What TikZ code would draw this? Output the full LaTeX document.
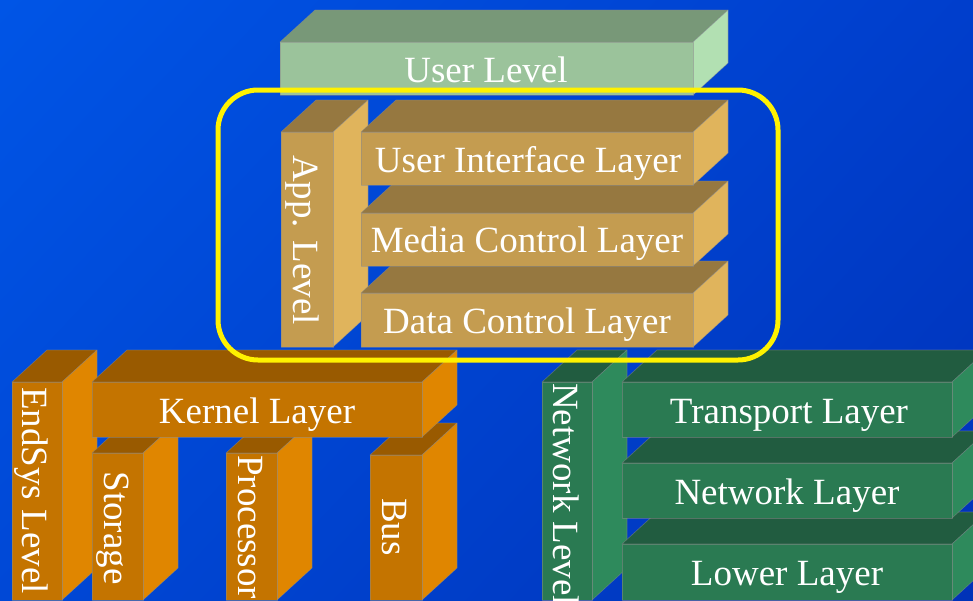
\documentclass[tikz,border=0pt]{standalone}
\usepackage{fontspec}
\setmainfont{Liberation Serif}
\usetikzlibrary{shadings}

% face colours of the four block families
\definecolor{userfront}{HTML}{9BC39B}
\definecolor{usertop}{HTML}{789878}
\definecolor{userside}{HTML}{B2E0B2}
\definecolor{appfront}{HTML}{C49C50}
\definecolor{apptop}{HTML}{967840}
\definecolor{appside}{HTML}{E0B45C}
\definecolor{sysfront}{HTML}{C47400}
\definecolor{systop}{HTML}{995A00}
\definecolor{sysside}{HTML}{E08600}
\definecolor{netfront}{HTML}{2A7A52}
\definecolor{nettop}{HTML}{215C40}
\definecolor{netside}{HTML}{2E8A5C}
\definecolor{bgUL}{HTML}{0055E6}
\definecolor{bgUR}{HTML}{003ECC}
\definecolor{bgLL}{HTML}{0048D6}
\definecolor{bgLR}{HTML}{0032B8}

\tikzset{
  facetext/.style={text=white, font=\fontsize{37}{37}\selectfont, inner sep=0pt},
  upright/.style={facetext, rotate=-90},
  rim/.style={draw=black!45, draw opacity=0.5, line width=0.6pt, line join=round},
  ring/.style={draw=yellow, line width=5pt, rounded corners=40pt}
}

% a block: front face (x1,y1)-(x2,y2), seen from above and right
\newcommand\layerbox[5]{%
  \fill[#5top,rim] (#1,#2) -- (#1+35,#2-32) -- (#3+35,#2-32) -- (#3,#2) -- cycle;
  \fill[#5side,rim] (#3,#2) -- (#3+35,#2-32) -- (#3+35,#4-32) -- (#3,#4) -- cycle;
  \fill[#5front,rim] (#1,#2) rectangle (#3,#4);
}

\begin{document}
\begin{tikzpicture}[x=1pt,y=-1pt]
  \useasboundingbox (0,0) rectangle (973,600);
  \clip (0,0) rectangle (973,600);
  \shade[upper left=bgUL, upper right=bgUR, lower left=bgLL, lower right=bgLR]
    (0,0) rectangle (973,600);

  % user level
  \layerbox{280}{42}{693}{95}{user}
  \node[facetext, anchor=base] (userlevel) at (486,82) {User Level};

  % application level
  \layerbox{281}{132}{333}{347}{app}
  \node[upright, anchor=base] (applevel) at (293,240) {App. Level};
  \layerbox{361}{293}{693}{347}{app}
  \node[facetext, anchor=base] (datactl) at (527,333) {Data Control Layer};
  \layerbox{361}{213}{693}{266}{app}
  \node[facetext, anchor=base] (mediactl) at (527,252) {Media Control Layer};
  \layerbox{361}{132}{693}{185}{app}
  \node[facetext, anchor=base] (uilayer) at (528,172) {User Interface Layer};

  % end system level
  \layerbox{12}{382}{62}{600}{sys}
  \node[upright, anchor=base west] (endsys) at (22,387) {EndSys Level};
  \layerbox{92}{453}{143}{600}{sys}
  \node[upright, anchor=base] (storage) at (104,528) {Storage};
  \layerbox{226}{453}{277}{600}{sys}
  \node[upright, anchor=base west] (processor) at (238,455) {Processor};
  \layerbox{370}{455}{422}{600}{sys}
  \node[upright, anchor=base] (bus) at (382,527) {Bus};
  \layerbox{92}{382}{422}{437}{sys}
  \node[facetext, anchor=base] (kernel) at (257,423) {Kernel Layer};

  % network level
  \layerbox{542}{382}{592}{600}{net}
  \node[upright, anchor=base west] (netlevel) at (553,383) {Network Level};
  \layerbox{622}{544}{952}{600}{net}
  \node[facetext, anchor=base] (lower) at (787,585) {Lower Layer};
  \layerbox{622}{463}{952}{518}{net}
  \node[facetext, anchor=base] (network) at (787,504) {Network Layer};
  \layerbox{622}{382}{952}{437}{net}
  \node[facetext, anchor=base] (transport) at (789,423) {Transport Layer};

  % highlight around the application level
  \draw[ring] (218,90) rectangle (778,360);
\end{tikzpicture}
\end{document}
